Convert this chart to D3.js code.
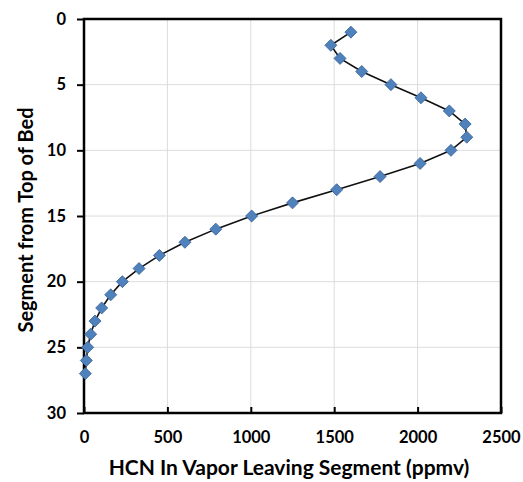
<!DOCTYPE html>
<html>
<head>
<meta charset="utf-8">
<script src="https://cdn.jsdelivr.net/npm/d3@7"></script>
<style>
  html, body { margin: 0; padding: 0; background: #fff; }
  svg text { font-family: Lato, "Open Sans", sans-serif; font-weight: 700; fill: #000; }
</style>
</head>
<body>
<svg id="chart" width="523" height="482"></svg>
<script>
// segment number (from top of bed) and HCN in vapor (ppmv)
const segments = [1, 2, 3, 4, 5, 6, 7, 8, 9, 10, 11, 12, 13, 14, 15, 16, 17, 18, 19, 20, 21, 22, 23, 24, 25, 26, 27];
const hcnPpmv  = [1600, 1480, 1535, 1665, 1840, 2020, 2190, 2285, 2295, 2200, 2015, 1775, 1515, 1250, 1005, 790, 605, 452, 330, 230, 160, 106, 66, 40, 22, 14, 8];
const xTicks = [0, 500, 1000, 1500, 2000, 2500];
const yTicks = [0, 5, 10, 15, 20, 25, 30];
const xTitle = 'HCN In Vapor Leaving Segment (ppmv)';
const yTitle = 'Segment from Top of Bed';

const W = 523, H = 482;
const m = { left: 84, top: 19, right: 22, bottom: 69 };
const iw = W - m.left - m.right, ih = H - m.top - m.bottom;

const svg = d3.select('#chart');
svg.append('rect').attr('width', W).attr('height', H).attr('fill', '#fff');

const x = d3.scaleLinear().domain([0, 2500]).range([0, iw]);
const y = d3.scaleLinear().domain([0, 30]).range([0, ih]);

const g = svg.append('g').attr('transform', `translate(${m.left},${m.top})`);

// gridlines
g.append('g').selectAll('line')
  .data(xTicks.slice(1, -1))
  .join('line')
  .attr('x1', d => x(d)).attr('x2', d => x(d))
  .attr('y1', 0).attr('y2', ih)
  .attr('stroke', '#dcdcdc').attr('stroke-width', 1);
g.append('g').selectAll('line')
  .data(yTicks.slice(1, -1))
  .join('line')
  .attr('y1', d => y(d)).attr('y2', d => y(d))
  .attr('x1', 0).attr('x2', iw)
  .attr('stroke', '#dcdcdc').attr('stroke-width', 1);

// axes: x ticks point inward, y ticks outward
const xAxis = g.append('g').attr('transform', `translate(0,${ih})`)
  .call(d3.axisBottom(x).tickValues(xTicks).tickSizeInner(-6).tickSizeOuter(0).tickPadding(18).tickFormat(d3.format('d')));
const yAxis = g.append('g')
  .call(d3.axisLeft(y).tickValues(yTicks).tickSizeInner(7).tickSizeOuter(0).tickPadding(11).tickFormat(d3.format('d')));
[xAxis, yAxis].forEach(a => {
  a.select('.domain').remove();
  a.selectAll('.tick line').attr('stroke', '#000').attr('stroke-width', 2);
  a.selectAll('.tick text').style('font-size', '16.5px').attr('fill', '#000');
});
xAxis.selectAll('.tick text').attr('dy', '0.71em');

// plot box
g.append('rect')
  .attr('width', iw).attr('height', ih)
  .attr('fill', 'none').attr('stroke', '#000').attr('stroke-width', 2.5);

// series
const pts = segments.map((s, i) => ({ s, v: hcnPpmv[i] }));
g.append('path')
  .datum(pts)
  .attr('fill', 'none').attr('stroke', '#111').attr('stroke-width', 1.6)
  .attr('d', d3.line().x(d => x(d.v)).y(d => y(d.s)));

g.append('g').selectAll('path')
  .data(pts)
  .join('path')
  .attr('transform', d => `translate(${x(d.v)},${y(d.s)}) rotate(45)`)
  .attr('d', d3.symbol(d3.symbolSquare, 72))
  .attr('fill', '#4f81bd').attr('stroke', '#3b6392').attr('stroke-width', 0.8);

// titles
svg.append('text')
  .attr('x', 289).attr('y', 475)
  .attr('text-anchor', 'middle')
  .style('font-size', '21px')
  .text(xTitle);
svg.append('text')
  .attr('transform', `translate(33,220) rotate(-90)`)
  .attr('text-anchor', 'middle')
  .style('font-size', '20px')
  .text(yTitle);
</script>
</body>
</html>
